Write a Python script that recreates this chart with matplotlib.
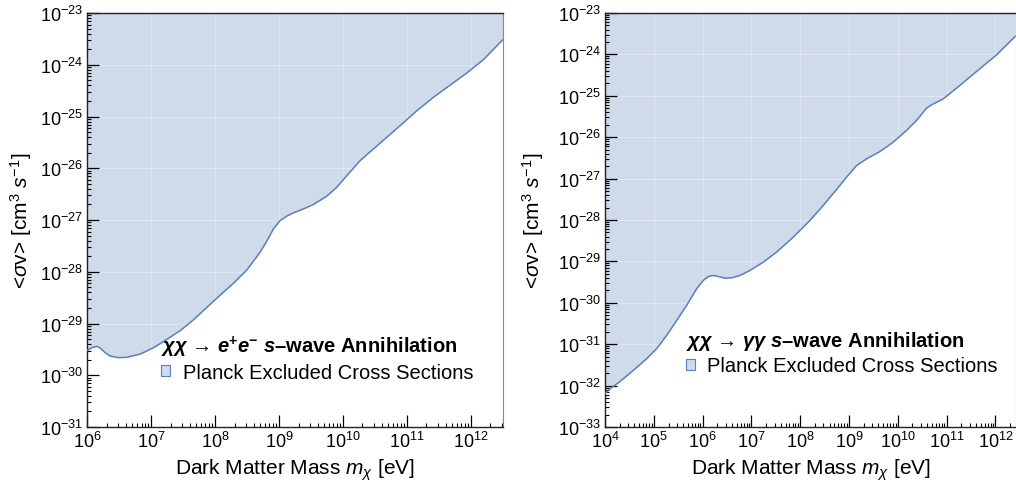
import matplotlib
matplotlib.use("Agg")
import matplotlib.pyplot as plt
from matplotlib.patches import Patch
from matplotlib.ticker import LogLocator, LogFormatterSciNotation, NullFormatter

plt.rcParams['font.family'] = ['Liberation Sans', 'DejaVu Sans']
plt.rcParams['mathtext.fontset'] = 'custom'
plt.rcParams['mathtext.rm'] = 'Liberation Sans'
plt.rcParams['mathtext.it'] = 'Liberation Sans:italic'
plt.rcParams['mathtext.bf'] = 'Liberation Sans:bold'
plt.rcParams['mathtext.bfit'] = 'Liberation Sans:bold:italic'

# ---- data: left panel (chi chi -> e+ e-) ----
mass_ee = [1.0e6, 1.17e6, 1.40e6, 1.58e6, 1.89e6, 2.26e6, 3.05e6, 4.12e6, 6.67e6,
           1.08e7, 1.74e7, 2.81e7, 4.55e7, 7.36e7, 1.19e8, 1.92e8, 3.10e8, 5.02e8,
           6.38e8, 8.11e8, 1.03e9, 1.31e9, 1.67e9, 2.39e9, 3.43e9, 5.53e9, 7.94e9,
           1.14e10, 1.84e10, 2.97e10, 4.81e10, 7.76e10, 1.42e11, 2.58e11, 4.71e11,
           8.57e11, 1.56e12, 3.13e12]
sigv_ee = [3.03e-30, 3.41e-30, 3.62e-30, 3.37e-30, 2.73e-30, 2.35e-30, 2.19e-30,
           2.22e-30, 2.57e-30, 3.41e-30, 4.94e-30, 7.26e-30, 1.18e-29, 2.05e-29,
           3.55e-29, 6.0e-29, 1.08e-28, 2.40e-28, 3.91e-28, 6.76e-28, 9.79e-28,
           1.19e-27, 1.38e-27, 1.64e-27, 2.00e-27, 2.89e-27, 4.31e-27, 7.24e-27,
           1.41e-26, 2.37e-26, 3.98e-26, 6.68e-26, 1.30e-25, 2.36e-25, 4.07e-25,
           6.95e-25, 1.26e-24, 3.05e-24]

# ---- data: right panel (chi chi -> gamma gamma) ----
mass_gg = [1.00e4, 1.26e4, 2.03e4, 3.80e4, 7.13e4, 1.14e5, 1.83e5, 2.94e5, 4.70e5,
           7.53e5, 1.03e6, 1.31e6, 1.65e6, 2.09e6, 2.86e6, 3.93e6, 5.82e6, 9.31e6,
           1.75e7, 3.27e7, 7.19e7, 1.58e8, 2.96e8, 5.55e8, 8.89e8, 1.43e9, 2.28e9,
           4.28e9, 8.02e9, 1.50e10, 2.41e10, 3.86e10, 4.89e10, 8.47e10, 1.59e11,
           4.08e11, 1.05e12, 2.57e12]
sigv_gg = [6.37e-33, 8.41e-33, 1.26e-32, 2.33e-32, 4.46e-32, 7.78e-32, 1.63e-31,
           3.75e-31, 8.65e-31, 2.18e-30, 3.47e-30, 4.33e-30, 4.58e-30, 4.33e-30,
           3.94e-30, 4.02e-30, 4.58e-30, 6.04e-30, 9.59e-30, 1.67e-29, 3.85e-29,
           9.72e-29, 2.24e-28, 5.45e-28, 1.08e-27, 2.07e-27, 2.99e-27, 4.50e-27,
           7.57e-27, 1.45e-26, 2.52e-26, 5.00e-26, 6.03e-26, 8.39e-26, 1.52e-25,
           3.84e-25, 9.68e-25, 2.74e-24]

titles = [r'$\mathbfit{\chi\chi}$ → $\mathbfit{e}^{\mathbf{+}}\mathbfit{e}^{\mathbf{-}}$ $\mathbfit{s}$–wave Annihilation',
          r'$\mathbfit{\chi\chi}$ → $\mathbfit{\gamma\gamma}$ $\mathbfit{s}$–wave Annihilation']
legend_label = 'Planck Excluded Cross Sections'
xlims = [(1e6, 3.13e12), (1e4, 2.65e12)]
ylims = [(1e-31, 1e-23), (1e-33, 1e-23)]

FILL = '#cfdaea'
LINE = '#5b7fbf'

fig = plt.figure(figsize=(10.16, 4.89), dpi=100)
axes = [fig.add_axes([0.0861, 0.1247, 0.4088, 0.8466]),
        fig.add_axes([0.5955, 0.1247, 0.4045, 0.8466])]
legend_pos = [(0.178, 0.226), (0.196, 0.236)]
ylabel_x = [-0.128, -0.143]

for i, (ax, mx, sv) in enumerate(zip(axes, [mass_ee, mass_gg], [sigv_ee, sigv_gg])):
    ax.set_xscale('log')
    ax.set_yscale('log')
    ax.set_xlim(*xlims[i])
    ax.set_ylim(*ylims[i])
    ax.fill_between(mx, sv, ylims[i][1], color=FILL, lw=0, zorder=1)
    ax.grid(True, which='major', color='white', alpha=0.35, lw=0.8, zorder=1.5)
    ax.plot(mx, sv, color=LINE, lw=1.1, zorder=3)

    for axis in (ax.xaxis, ax.yaxis):
        axis.set_major_locator(LogLocator(base=10, numticks=30))
        axis.set_minor_locator(LogLocator(base=10, subs=range(2, 10), numticks=30))
        axis.set_major_formatter(LogFormatterSciNotation())
        axis.set_minor_formatter(NullFormatter())
    ax.tick_params(which='major', direction='in', length=8.5, width=0.9,
                   labelsize=13, top=False, right=False, pad=3)
    ax.tick_params(which='minor', direction='in', length=3, width=0.8,
                   top=False, right=False)
    for s in ('left', 'bottom', 'top'):
        ax.spines[s].set_color('#222222')
        ax.spines[s].set_linewidth(1.0)
    ax.spines['right'].set_color('#888888')

    ax.set_xlabel(r'Dark Matter Mass $m_{\chi}$ [eV]', fontsize=15)
    ax.xaxis.set_label_coords(0.5, -0.072)
    ax.set_ylabel(r'<$\sigma$v> [cm$^{3}$ $s^{-1}$]', fontsize=15)
    ax.yaxis.set_label_coords(ylabel_x[i], 0.5)

    handle = Patch(facecolor=FILL, edgecolor=LINE, lw=0.8)
    ax.legend(handles=[handle], labels=[legend_label], title=titles[i],
              loc='upper left', bbox_to_anchor=legend_pos[i], frameon=False,
              alignment='left', fontsize=14.5,
              title_fontproperties={'weight': 'bold', 'size': 14.5},
              handlelength=0.45, handleheight=0.45, handletextpad=0.6,
              labelspacing=0.2, borderpad=0, borderaxespad=0)

fig.savefig('out.png', dpi=100)
